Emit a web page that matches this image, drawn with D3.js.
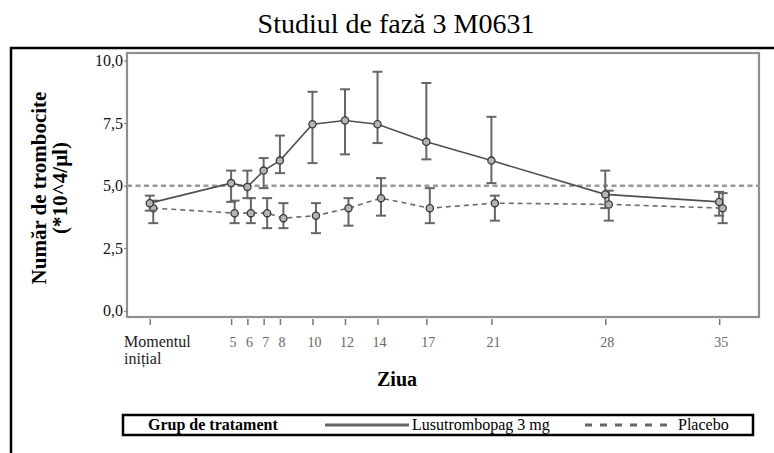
<!DOCTYPE html>
<html lang="ro">
<head>
    <meta charset="UTF-8">
    <script src="https://cdn.jsdelivr.net/npm/d3@7"></script>
    <title>Studiul de fază 3 M0631</title>
    <style>
        body {
            margin: 0;
            background: #ffffff;
        }

        svg {
            display: block;
        }

        svg text {
            font-family: "Liberation Serif", "Times New Roman", serif;
        }
    </style>
</head>
<body>
<svg width="774" height="453" viewBox="0 0 774 453"></svg>

<script>
    const WIDTH = 774;
    const HEIGHT = 453;
    const PLOT = {left: 127, right: 759, top: 53, bottom: 317};
    const SERIF = "'Liberation Serif', 'Times New Roman', serif";

    // days (0 = baseline / "Momentul inițial")
    const days = [0, 5, 6, 7, 8, 10, 12, 14, 17, 21, 28, 35];
    const dayLabels = ["Momentul inițial", "5", "6", "7", "8", "10", "12", "14", "17", "21", "28", "35"];

    const lusuMean = [4.3, 5.1, 4.95, 5.6, 6.0, 7.45, 7.6, 7.45, 6.75, 6.0, 4.65, 4.35];
    const lusuLow = [4.0, 4.35, 4.5, 4.9, 5.5, 5.9, 6.25, 6.7, 6.05, 5.1, 4.1, 3.8];
    const lusuHigh = [4.6, 5.6, 5.6, 6.1, 7.0, 8.75, 8.85, 9.55, 9.1, 7.75, 5.6, 4.75];

    const placMean = [4.1, 3.9, 3.9, 3.9, 3.7, 3.8, 4.1, 4.5, 4.1, 4.3, 4.25, 4.1];
    const placLow = [3.5, 3.5, 3.5, 3.3, 3.3, 3.1, 3.4, 3.8, 3.5, 3.6, 3.6, 3.5];
    const placHigh = [4.4, 4.4, 4.5, 4.5, 4.3, 4.3, 4.5, 5.3, 4.9, 4.6, 4.8, 4.7];

    const yTicks = [0, 2.5, 5, 7.5, 10];
    const refValue = 5;

    const seriesNames = ["Lusutrombopag 3 mg", "Placebo"];

    const svg = d3.select("svg");

    function init() {
        const [x, y] = makeScales();
        drawDecor();
        drawFrame(x, y);
        drawAxes(x, y);
        drawSeries(x, y);
        drawLegend();
    }

    function makeScales() {
        const x = d3.scaleLinear()
            .domain([-1.4, 37.45])
            .range([PLOT.left, PLOT.right]);

        const y = d3.scaleLinear()
            .domain([-0.25, 10.3])
            .range([PLOT.bottom, PLOT.top]);

        return [x, y];
    }

    function drawDecor() {
        svg.append("text")
            .attr("x", 396)
            .attr("y", 33)
            .attr("text-anchor", "middle")
            .attr("font-family", SERIF)
            .style("font-size", "28px")
            .text("Studiul de fază 3 M0631");

        // outer box (top + left edges)
        svg.append("path")
            .attr("d", `M11,${HEIGHT} V48 H${WIDTH}`)
            .attr("fill", "none")
            .attr("stroke", "#000")
            .attr("stroke-width", 2.5);
    }

    function drawFrame(x, y) {
        svg.append("rect")
            .attr("x", PLOT.left)
            .attr("y", PLOT.top)
            .attr("width", PLOT.right - PLOT.left)
            .attr("height", PLOT.bottom - PLOT.top)
            .attr("fill", "none")
            .attr("stroke", "#8f8f8f")
            .attr("stroke-width", 2.2);

        svg.append("line")
            .attr("x1", PLOT.left)
            .attr("x2", PLOT.right)
            .attr("y1", y(refValue))
            .attr("y2", y(refValue))
            .attr("stroke", "#999")
            .attr("stroke-width", 2.5)
            .attr("stroke-dasharray", "5,3.5");
    }

    function drawAxes(x, y) {
        const axisLeft = d3.axisLeft(y)
            .tickValues(yTicks)
            .tickSize(3)
            .tickPadding(1)
            .tickFormat(d => d3.format(".1f")(d).replace(".", ","));

        const gl = svg.append("g")
            .attr("class", "axis left")
            .attr("transform", `translate(${PLOT.left}, 0)`)
            .call(axisLeft)
            .attr("font-family", SERIF)
            .attr("font-size", 16);
        gl.select(".domain").remove();
        gl.selectAll("line").attr("stroke", "#777");
        gl.selectAll("text").attr("fill", "#111");

        const axisBottom = d3.axisBottom(x)
            .tickValues(days)
            .tickSize(6)
            .tickFormat("");

        const gb = svg.append("g")
            .attr("class", "axis bottom")
            .attr("transform", `translate(0, ${PLOT.bottom + 2})`)
            .call(axisBottom);
        gb.select(".domain").remove();
        gb.selectAll("line").attr("stroke", "#777").attr("stroke-width", 1.5);

        // tick labels
        svg.append("g")
            .attr("font-family", SERIF)
            .selectAll("text")
            .data(days.slice(1))
            .enter()
            .append("text")
            .attr("x", d => x(d) + 2)
            .attr("y", 347)
            .attr("text-anchor", "middle")
            .attr("fill", "#666")
            .style("font-size", "14px")
            .text((d, i) => dayLabels[i + 1]);

        const base = svg.append("text")
            .attr("x", 124)
            .attr("y", 347)
            .attr("font-family", SERIF)
            .style("font-size", "16px")
            .attr("fill", "#222");
        base.selectAll("tspan")
            .data(dayLabels[0].split(" "))
            .enter()
            .append("tspan")
            .attr("x", 124)
            .attr("dy", (d, i) => i === 0 ? 0 : 16.5)
            .text(d => d);

        svg.append("text")
            .attr("x", 397)
            .attr("y", 386)
            .attr("text-anchor", "middle")
            .attr("font-family", SERIF)
            .style("font-size", "20px")
            .style("font-weight", "bold")
            .text("Ziua");

        const yt = svg.append("text")
            .attr("transform", "translate(0, 188) rotate(-90)")
            .attr("text-anchor", "middle")
            .attr("font-family", SERIF)
            .style("font-size", "21px")
            .style("font-weight", "bold");
        yt.append("tspan").attr("x", 0).attr("y", 46).text("Număr de trombocite");
        yt.append("tspan").attr("x", 0).attr("y", 67).text("(*10^4/μl)");
    }

    function makeRows(mean, low, high) {
        return days.map((d, i) => ({day: d, mean: mean[i], low: low[i], high: high[i]}));
    }

    function drawSeries(x, y) {
        const series = [
            {name: seriesNames[0], rows: makeRows(lusuMean, lusuLow, lusuHigh), dash: null, dx: 0, color: "#505050"},
            {name: seriesNames[1], rows: makeRows(placMean, placLow, placHigh), dash: "5,4", dx: 3.5, color: "#6a6a6a"},
        ];

        // placebo first so the active arm sits on top
        series.slice().reverse().forEach(s => {
            const g = svg.append("g")
                .attr("class", "series")
                .attr("transform", `translate(${s.dx}, 0)`);

            const line = d3.line()
                .x(d => x(d.day))
                .y(d => y(d.mean));

            g.append("path")
                .datum(s.rows)
                .attr("d", line)
                .attr("fill", "none")
                .attr("stroke", s.color)
                .attr("stroke-width", 1.6)
                .attr("stroke-dasharray", s.dash);

            const bars = g.selectAll("g.err")
                .data(s.rows)
                .enter()
                .append("g")
                .attr("class", "err")
                .attr("stroke", "#666")
                .attr("stroke-width", 2);

            bars.append("line")
                .attr("x1", d => x(d.day))
                .attr("x2", d => x(d.day))
                .attr("y1", d => y(d.low))
                .attr("y2", d => y(d.high));
            bars.append("line")
                .attr("x1", d => x(d.day) - 5)
                .attr("x2", d => x(d.day) + 5)
                .attr("y1", d => y(d.high))
                .attr("y2", d => y(d.high));
            bars.append("line")
                .attr("x1", d => x(d.day) - 5)
                .attr("x2", d => x(d.day) + 5)
                .attr("y1", d => y(d.low))
                .attr("y2", d => y(d.low));

            g.selectAll("circle")
                .data(s.rows)
                .enter()
                .append("circle")
                .attr("cx", d => x(d.day))
                .attr("cy", d => y(d.mean))
                .attr("r", 3.6)
                .attr("fill", "#b4b4b4")
                .attr("stroke", "#3a3a3a")
                .attr("stroke-width", 1.3);
        });
    }

    function drawLegend() {
        const g = svg.append("g")
            .attr("class", "legend")
            .attr("font-family", SERIF);

        g.append("rect")
            .attr("x", 123)
            .attr("y", 415)
            .attr("width", 630)
            .attr("height", 20)
            .attr("fill", "#fff")
            .attr("stroke", "#000")
            .attr("stroke-width", 2.5);

        g.append("text")
            .attr("x", 148)
            .attr("y", 430)
            .style("font-size", "16px")
            .style("font-weight", "bold")
            .text("Grup de tratament");

        const items = [
            {name: seriesNames[0], x1: 325, x2: 409, dash: null},
            {name: seriesNames[1], x1: 585, x2: 675, dash: "7,8"},
        ];

        items.forEach(it => {
            g.append("line")
                .attr("x1", it.x1)
                .attr("x2", it.x2)
                .attr("y1", 425)
                .attr("y2", 425)
                .attr("stroke", "#666")
                .attr("stroke-width", 3)
                .attr("stroke-dasharray", it.dash);
            g.append("text")
                .attr("x", it.x2 + 3)
                .attr("y", 430)
                .style("font-size", "16px")
                .text(it.name);
        });
    }

    init();
</script>
</body>
</html>
